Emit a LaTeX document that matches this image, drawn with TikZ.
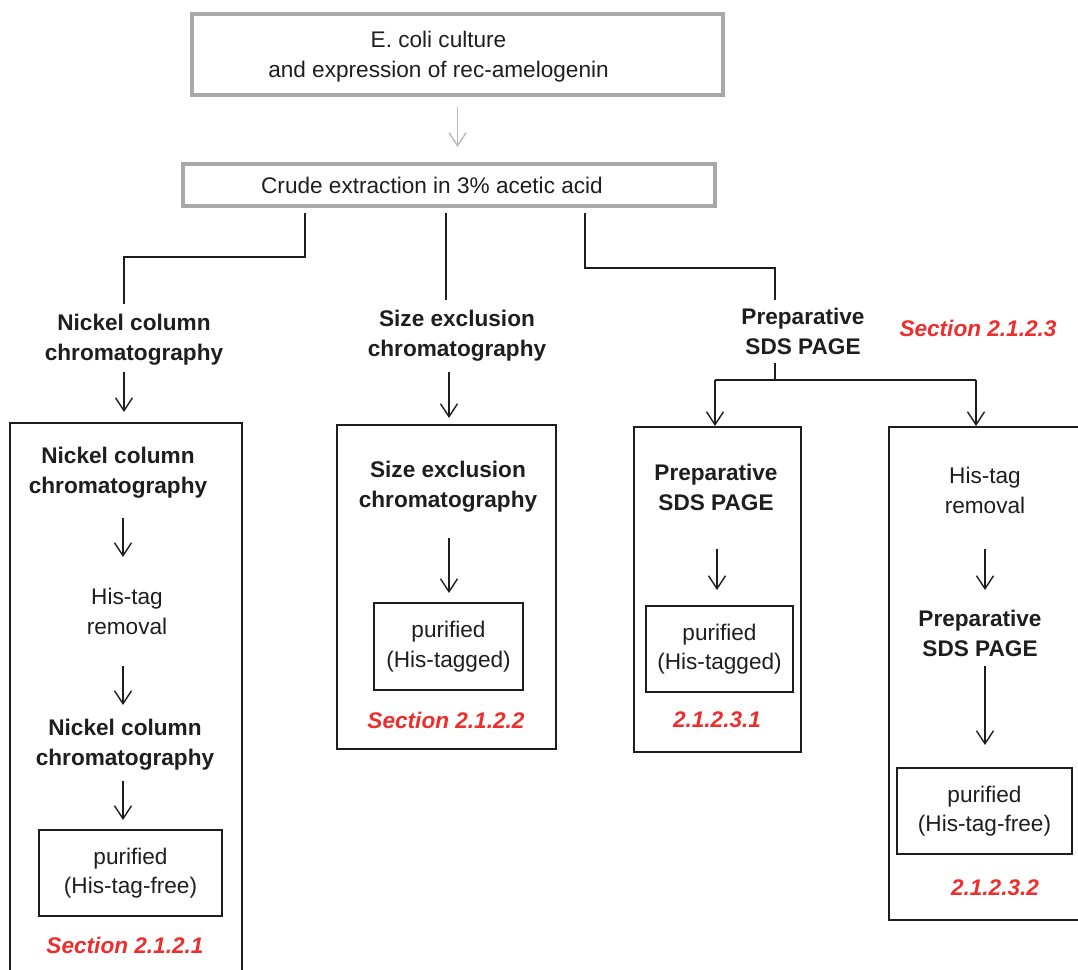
\documentclass[tikz,border=0pt]{standalone}
\usepackage{fontspec}
\setmainfont{Liberation Sans}
\usetikzlibrary{arrows.meta}
\definecolor{framegray}{RGB}{168,168,168}
\definecolor{arrowgray}{RGB}{185,185,185}
\definecolor{ink}{RGB}{30,30,30}
\definecolor{secred}{RGB}{238,45,45}
\tikzset{
  txt/.style={font=\fontsize{22.6pt}{29.5pt}\selectfont, align=center, inner sep=4pt, text=ink},
  head/.style={txt, font=\fontsize{22.6pt}{29.5pt}\selectfont\bfseries},
  sec/.style={txt, font=\fontsize{22.6pt}{29.5pt}\selectfont\bfseries\itshape, text=secred},
  topbox/.style={draw=framegray, line width=4pt, outer sep=0pt, inner sep=0pt},
  frame/.style={draw=ink, line width=1.6pt, outer sep=0pt, inner sep=0pt},
  result/.style={txt, frame},
  link/.style={draw=ink, line width=1.4pt},
  flow/.style={link, -{Straight Barb[length=13pt,width=17pt]}},
  grayflow/.style={draw=arrowgray, line width=1.4pt, -{Straight Barb[length=13pt,width=17pt]}},
}
\begin{document}
\begin{tikzpicture}[x=1pt, y=-1pt]
\useasboundingbox (0,0) rectangle (1078,969);
\clip (0,0) rectangle (1078,969);

% start of the workflow
\node[topbox, minimum width=531pt, minimum height=81pt] (culture) at (457.5,54.5) {};
\node[txt] (cultureText) at ([xshift=-19pt, yshift=-2pt]culture.center)
  {E. coli culture\\and expression of rec-amelogenin};
\node[topbox, minimum width=532pt, minimum height=42pt] (crude) at (449,185) {};
\node[txt] (crudeText) at ([xshift=-17pt]crude.center) {Crude extraction in 3\% acetic acid};

% the three purification routes
\node[head, anchor=north] (nickA) at (134,310) {Nickel column\\chromatography};
\node[head, anchor=north] (sizeA) at (457,306) {Size exclusion\\chromatography};
\node[head, anchor=north] (prepA) at (803,304) {Preparative\\SDS PAGE};
\node[sec] (sec3) at (978,328) {Section 2.1.2.3};

% outer frames of each route
\node[frame, minimum width=232pt, minimum height=577pt] (boxL) at (126,711.5) {};
\node[frame, minimum width=219pt, minimum height=324pt] (boxM) at (446.5,587) {};
\node[frame, minimum width=167pt, minimum height=325pt] (boxP1) at (717.5,589.5) {};
\node[frame, minimum width=211pt, minimum height=493pt] (boxP2) at (994.5,673.5) {};

% route 1: nickel column
\node[head, anchor=north] (nickB) at (118,443) {Nickel column\\chromatography};
\node[txt, anchor=north] (hisB) at (127,584) {His-tag\\removal};
\node[head, anchor=north] (nickC) at (125,715) {Nickel column\\chromatography};
\node[result, minimum width=183pt, minimum height=86pt] (pur1) at (130.5,873) {purified\\(His-tag-free)};
\node[sec] (sec1) at (125,945) {Section 2.1.2.1};

% route 2: size exclusion
\node[head, anchor=north] (sizeB) at (448,457) {Size exclusion\\chromatography};
\node[result, minimum width=149pt, minimum height=87pt] (pur2) at (448.5,646.5) {purified\\(His-tagged)};
\node[sec] (sec2) at (446,720) {Section 2.1.2.2};

% route 3a: preparative SDS PAGE
\node[head, anchor=north] (prepB) at (716,460) {Preparative\\SDS PAGE};
\node[result, minimum width=147pt, minimum height=86pt] (pur3) at (719.5,649) {purified\\(His-tagged)};
\node[sec] (sec31) at (717,720) {2.1.2.3.1};

% route 3b: tag removal then preparative SDS PAGE
\node[txt, anchor=north] (hisD) at (985,463) {His-tag\\removal};
\node[head, anchor=north] (prepD) at (980,606) {Preparative\\SDS PAGE};
\node[result, minimum width=175pt, minimum height=86pt] (pur4) at (984.5,811) {purified\\(His-tag-free)};
\node[sec] (sec32) at (995,888) {2.1.2.3.2};

% branch points
\coordinate (elbowL) at (305,257);
\coordinate (dropL) at (124,257);
\coordinate (dropM) at (446,257);
\coordinate (elbowR) at (585,268);
\coordinate (dropR) at (775,268);
\coordinate (splitP) at (775,380);
\coordinate (splitP1) at (715,380);
\coordinate (splitP2) at (976,380);
\coordinate (colL) at (123,0);
\coordinate (colM) at (449,0);
\coordinate (colP1) at (717,0);
\coordinate (colP2) at (985,0);

% connectors
\draw[grayflow, shorten <=12pt, shorten >=17pt] (culture.south) -- (culture.south |- crude.north);
\draw[link, shorten <=7pt, shorten >=6pt] (crude.south -| elbowL) -- (elbowL) -- (dropL) -- (dropL |- nickA.north);
\draw[link, shorten <=7pt, shorten >=6pt] (crude.south -| dropM) -- (dropM |- sizeA.north);
\draw[link, shorten <=7pt, shorten >=4pt] (crude.south -| elbowR) -- (elbowR) -- (dropR) -- (dropR |- prepA.north);

\draw[flow, shorten <=3pt, shorten >=11pt] (nickA.south -| dropL) -- (boxL.north -| dropL);
\draw[flow, shorten <=7pt, shorten >=7pt] (sizeA.south -| colM) -- (boxM.north -| colM);
\draw[link, shorten <=4pt] (prepA.south -| splitP) -- (splitP);
\draw[link] (splitP1) -- (splitP2);
\draw[flow, shorten >=1pt] (splitP1) -- (splitP1 |- boxP1.north);
\draw[flow, shorten >=1pt] (splitP2) -- (splitP2 |- boxP2.north);

\draw[flow, shorten <=16pt, shorten >=27pt] (nickB.south -| colL) -- (hisB.north -| colL);
\draw[flow, shorten <=27pt, shorten >=10pt] (hisB.south -| colL) -- (nickC.north -| colL);
\draw[flow, shorten <=7pt, shorten >=10pt] (nickC.south -| colL) -- (pur1.north -| colL);

\draw[flow, shorten <=22pt, shorten >=10pt] (sizeB.south -| colM) -- (pur2.north -| colM);
\draw[flow, shorten <=34pt, shorten >=16pt] (prepB.south -| colP1) -- (pur3.north -| colP1);

\draw[flow, shorten <=31pt, shorten >=16pt] (hisD.south -| colP2) -- (prepD.north -| colP2);
\draw[flow, shorten <=5pt, shorten >=23pt] (prepD.south -| colP2) -- (pur4.north -| colP2);
\end{tikzpicture}
\end{document}
